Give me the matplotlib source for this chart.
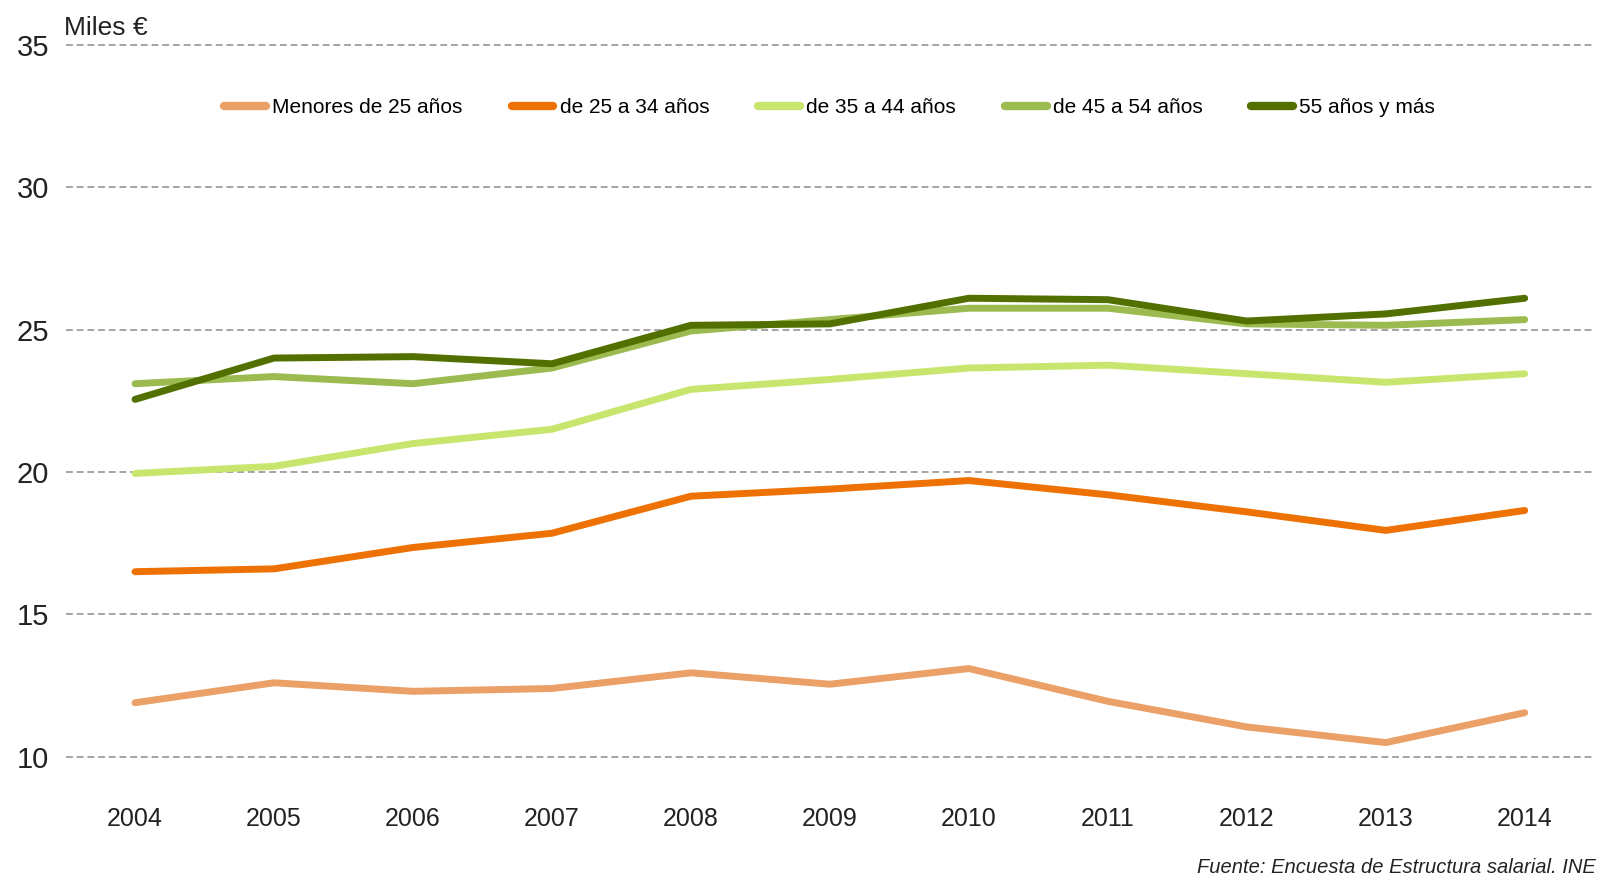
import matplotlib
matplotlib.use('Agg')
import matplotlib.pyplot as plt

plt.rcParams['font.family'] = ['Liberation Sans', 'DejaVu Sans']

years = [2004, 2005, 2006, 2007, 2008, 2009, 2010, 2011, 2012, 2013, 2014]
labels = ['Menores de 25 años', 'de 25 a 34 años', 'de 35 a 44 años',
          'de 45 a 54 años', '55 años y más']
menores_25 = [11.9, 12.6, 12.3, 12.4, 12.95, 12.55, 13.1, 11.95, 11.05, 10.5, 11.55]
de_25_34 = [16.5, 16.6, 17.35, 17.85, 19.15, 19.4, 19.7, 19.2, 18.6, 17.95, 18.65]
de_35_44 = [19.95, 20.2, 21.0, 21.5, 22.9, 23.25, 23.65, 23.75, 23.45, 23.15, 23.45]
de_45_54 = [23.1, 23.35, 23.1, 23.65, 24.95, 25.35, 25.75, 25.75, 25.2, 25.15, 25.35]
mas_55 = [22.55, 24.0, 24.05, 23.8, 25.15, 25.2, 26.1, 26.05, 25.3, 25.55, 26.1]

series = [menores_25, de_25_34, de_35_44, de_45_54, mas_55]
colors = ['#EBA068', '#EE7203', '#C8E66E', '#9BBB51', '#527000']

fig = plt.figure(figsize=(15.99, 8.77), dpi=100)
ax = fig.add_axes([0.041, 0.137, 0.956, 0.812])

for vals, lab, col in zip(series, labels, colors):
    ax.plot(years, vals, color=col, lw=5, label=lab, solid_capstyle='round',
            solid_joinstyle='round')

ax.set_xlim(2003.5, 2014.5)
ax.set_ylim(10, 35)
ax.set_xticks(years)
ax.set_yticks([10, 15, 20, 25, 30, 35])
ax.grid(axis='y', color='#8c8c8c', linestyle=(0, (4.5, 2.5)), lw=1.1)
for gl in ax.get_ygridlines():
    gl.set_clip_on(False)
ax.set_axisbelow(True)
for s in ax.spines.values():
    s.set_visible(False)
ax.tick_params(axis='both', length=0, colors='#222222')
ax.tick_params(axis='x', pad=36, labelsize=18)
ax.tick_params(axis='y', pad=12, labelsize=21)

leg = ax.legend(loc='center', bbox_to_anchor=(0.5, 0.912), ncol=5, frameon=False,
                fontsize=15, handlelength=2.0, columnspacing=2.35, handletextpad=0.3)
for h in leg.get_lines():
    h.set_linewidth(6)

fig.text(0.04, 0.968, 'Miles €', fontsize=19, color='#222222', va='center', ha='left')
fig.text(0.998, 0.005, 'Fuente: Encuesta de Estructura salarial. INE', fontsize=14.5,
         style='italic', color='#222222', ha='right', va='baseline')

fig.savefig('out.png', dpi=100)
